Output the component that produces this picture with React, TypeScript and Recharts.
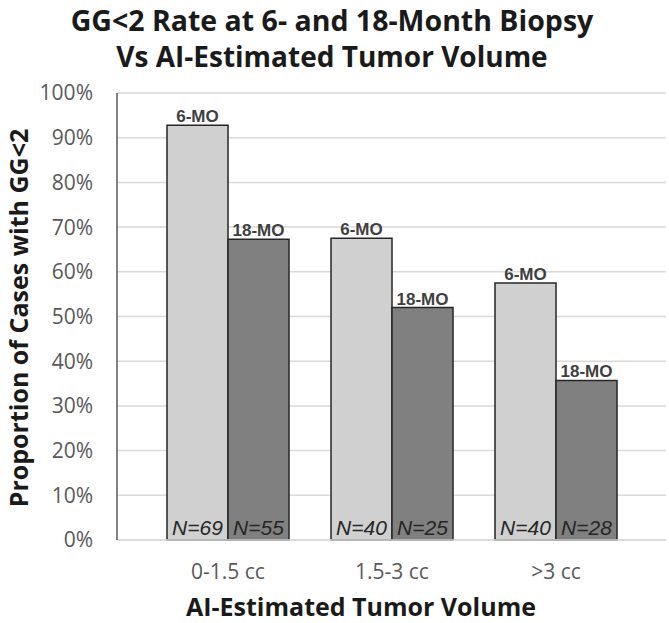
import React from 'react';
import { BarChart, Bar, XAxis, YAxis, CartesianGrid, LabelList, Label } from 'recharts';

const categories = ['0-1.5 cc', '1.5-3 cc', '>3 cc'];
const rate6mo = [92.8, 67.5, 57.5];
const rate18mo = [67.3, 52.0, 35.7];
const n6mo = [69, 40, 40];
const n18mo = [55, 25, 28];
const yTicks = [0, 10, 20, 30, 40, 50, 60, 70, 80, 90, 100];
const seriesLabels = ['6-MO', '18-MO'];
const titleLines = ['GG<2 Rate at 6- and 18-Month Biopsy', 'Vs AI-Estimated Tumor Volume'];
const xTitle = 'AI-Estimated Tumor Volume';
const yTitle = 'Proportion of Cases with GG<2';

const data = categories.map((c, i) => ({
  category: c,
  m6: rate6mo[i],
  m18: rate18mo[i],
  n6: n6mo[i],
  n18: n18mo[i],
}));

const UI = '"Open Sans", sans-serif';
const LBL = '"Liberation Sans", Arial, sans-serif';

const topLabel = (text: string) => (props: any) => {
  const { x, y, width } = props;
  return (
    <text x={Number(x) + Number(width) / 2} y={Number(y) - 3} textAnchor="middle" fontFamily={LBL} fontWeight="bold" fontSize={17} fill="#404040">
      {text}
    </text>
  );
};

const nLabel = (props: any) => {
  const { x, y, width, height, value } = props;
  return (
    <text x={Number(x) + Number(width) / 2} y={Number(y) + Number(height) - 5} textAnchor="middle" fontFamily={LBL} fontStyle="italic" fontSize={21} fill="#262626">
      {'N=' + value}
    </text>
  );
};

const TitlesContent = () => (
  <g>
    <text x={332} y={31} textAnchor="middle" fontFamily={UI} fontWeight="bold" fontSize={28.5} fill="#1a1a1a">{titleLines[0]}</text>
    <text x={332} y={67} textAnchor="middle" fontFamily={UI} fontWeight="bold" fontSize={28} fill="#1a1a1a">{titleLines[1]}</text>
    <text x={361} y={616} textAnchor="middle" fontFamily={UI} fontWeight="bold" fontSize={25} fill="#1a1a1a">{xTitle}</text>
  </g>
);

const YTitleContent = () => (
  <text x={27.5} y={318} transform="rotate(-90 27.5 318)" textAnchor="middle" fontFamily={UI} fontWeight="bold" fontSize={25} fill="#1a1a1a">{yTitle}</text>
);

export default function App() {
  return (
    <div style={{ position: 'absolute', left: 0, top: 0, width: 669, height: 623, background: '#fff' }}>
      <BarChart
        width={669}
        height={623}
        data={data}
        margin={{ top: 93, right: 3, bottom: 0, left: 0 }}
        barCategoryGap={21}
        barGap={0}
      >
        <CartesianGrid vertical={false} stroke="#d9d9d9" strokeWidth={1.5} />
        <XAxis
          dataKey="category"
          padding={{ left: 29, right: 28 }}
          height={83}
          interval={0}
          tickLine={false}
          tickSize={0}
          tickMargin={24}
          axisLine={{ stroke: '#d9d9d9', strokeWidth: 1.5 }}
          tick={{ fill: '#595959', fontSize: 21, fontFamily: UI }}
        >
          <Label content={TitlesContent} />
        </XAxis>
        <XAxis
          xAxisId="top"
          orientation="top"
          dataKey="category"
          height={0}
          tick={false}
          tickLine={false}
          axisLine={{ stroke: '#595959', strokeWidth: 1.5 }}
        />
        <YAxis
          width={117}
          domain={[0, 100]}
          ticks={yTicks}
          interval={0}
          tickFormatter={(v: number) => v + '%'}
          tickLine={false}
          tickSize={0}
          tickMargin={24}
          axisLine={{ stroke: '#595959', strokeWidth: 1.5 }}
          tick={{ fill: '#595959', fontSize: 21, fontFamily: UI }}
        >
          <Label content={YTitleContent} />
        </YAxis>
        <YAxis
          yAxisId="right"
          orientation="right"
          width={0}
          domain={[0, 100]}
          tick={false}
          tickLine={false}
          axisLine={{ stroke: '#595959', strokeWidth: 1.5 }}
        />
        <Bar dataKey="m6" fill="#d0d0d0" stroke="#262626" strokeWidth={1.5} isAnimationActive={false}>
          <LabelList dataKey="m6" content={topLabel(seriesLabels[0])} />
          <LabelList dataKey="n6" content={nLabel} />
        </Bar>
        <Bar dataKey="m18" fill="#808080" stroke="#262626" strokeWidth={1.5} isAnimationActive={false}>
          <LabelList dataKey="m18" content={topLabel(seriesLabels[1])} />
          <LabelList dataKey="n18" content={nLabel} />
        </Bar>
      </BarChart>
    </div>
  );
}
